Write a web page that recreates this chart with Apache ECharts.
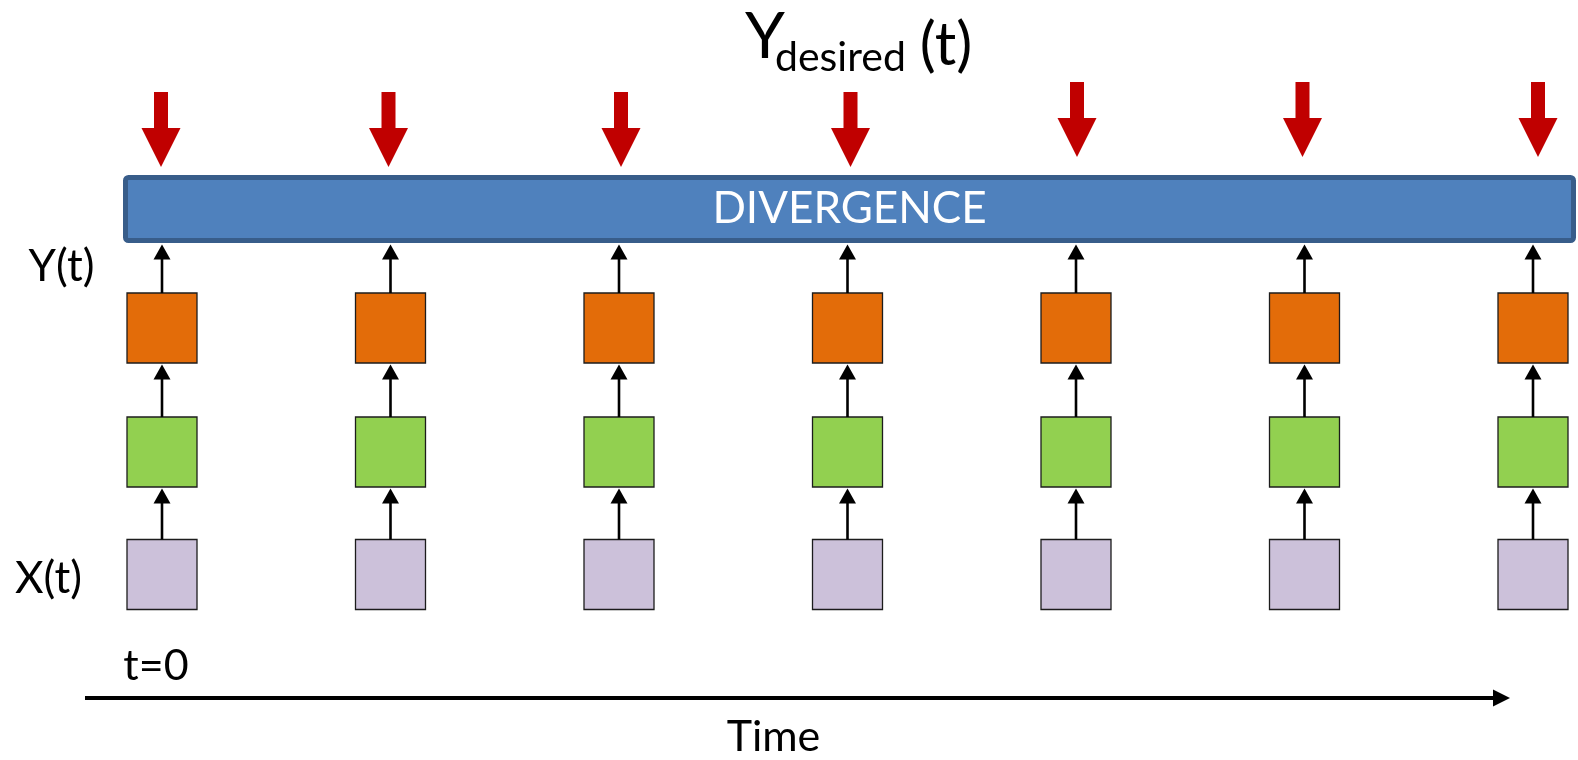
<!DOCTYPE html>
<html><head><meta charset="utf-8">
<script src="https://cdn.jsdelivr.net/npm/echarts@6/dist/echarts.min.js"></script>
<style>html,body{margin:0;padding:0;background:#fff}#c{width:1578px;height:760px}</style>
</head><body><div id="c"></div>
<script>
// ---- data ----
const timeSteps = [0, 1, 2, 3, 4, 5, 6];
const layerNames = ['X(t)', 'hidden', 'Y(t)'];
const lossLabel = 'DIVERGENCE';
const targetLabel = ['Y', 'desired', '(t)'];
const startLabel = 't=0';
const axisName = 'Time';

// ---- layout (pixels) ----
const W = 1578, H = 760;
const STEP0_PX = 162, STEP_PX = 228.5;
const XMIN = -STEP0_PX / STEP_PX, XMAX = (W - STEP0_PX) / STEP_PX;
const ROW_Y = [574.5, 452, 328];          // centre of X, hidden, Y boxes
const BOX = 70;
const BAR_TOP = 175, BAR_BOT = 243;
const redTop = [92, 92, 92, 92, 82, 82, 82];
const redDx = [-1, -2, 2, 3, 1, -2, 5];
const layerColors = ['#CCC1DA', '#92D050', '#E36C09'];
const FONT = 'Lato, "Open Sans", sans-serif';

function blackArrow(cx, y0, tip) {
  return [
    { type: 'line', shape: { x1: cx, y1: y0, x2: cx, y2: tip + 12 }, style: { stroke: '#000', lineWidth: 2.6 } },
    { type: 'polygon', shape: { points: [[cx, tip], [cx - 8.5, tip + 15], [cx + 8.5, tip + 15]] }, style: { fill: '#000' } }
  ];
}

function renderColumn(params, api) {
  const i = params.dataIndex;
  const s = api.value(0);
  const cx = api.coord([s, 0])[0];
  const children = [];
  ROW_Y.forEach((cyv, k) => {
    const cy = api.coord([s, cyv])[1];
    children.push({ type: 'rect', shape: { x: cx - BOX / 2, y: cy - BOX / 2, width: BOX, height: BOX },
      style: { fill: layerColors[k], stroke: '#1c1c1c', lineWidth: 1.3 } });
  });
  const targets = [ROW_Y[1] + BOX / 2, ROW_Y[2] + BOX / 2, BAR_BOT];
  for (let k = 0; k < 3; k++) {
    const y0 = api.coord([s, ROW_Y[k] - BOX / 2])[1];
    const tip = api.coord([s, targets[k]])[1] + 1.5;
    children.push(...blackArrow(cx, y0, tip));
  }
  const rx = cx + redDx[i], t = api.coord([s, redTop[i]])[1];
  children.push({ type: 'polygon', shape: { points: [
    [rx - 7, t], [rx + 7, t], [rx + 7, t + 36], [rx + 19.5, t + 36], [rx, t + 75], [rx - 19.5, t + 36], [rx - 7, t + 36]
  ] }, style: { fill: '#C00000' } });
  return { type: 'group', children };
}

function renderFrame(params, api) {
  const first = api.coord([timeSteps[0], 0])[0];
  const last = api.coord([timeSteps[timeSteps.length - 1], 0])[0];
  const bx0 = first - 39, bx1 = last + 43;
  const lw = 5;
  const ty = 698, tx0 = first - 77, tx1 = last - 23;
  return { type: 'group', children: [
    { type: 'rect', shape: { x: bx0 + lw / 2, y: BAR_TOP + lw / 2, width: bx1 - bx0 - lw, height: BAR_BOT - BAR_TOP - lw, r: 3 },
      style: { fill: '#4F81BD', stroke: '#385D8A', lineWidth: lw } },
    { type: 'text', x: (bx0 + bx1) / 2, y: (BAR_TOP + BAR_BOT) / 2,
      style: { text: lossLabel, fill: '#fff', font: '44px ' + FONT, textAlign: 'center', textVerticalAlign: 'middle' } },
    { type: 'line', shape: { x1: tx0, y1: ty, x2: tx1 - 14, y2: ty }, style: { stroke: '#000', lineWidth: 4 } },
    { type: 'polygon', shape: { points: [[tx1, ty], [tx1 - 17, ty - 8.5], [tx1 - 17, ty + 8.5]] }, style: { fill: '#000' } }
  ] };
}

function txt(x, y, text, size, align) {
  return { type: 'text', x, y, style: { text, font: size + 'px ' + FONT, fill: '#000', textAlign: align || 'center', textVerticalAlign: 'middle' } };
}

const chart = echarts.init(document.getElementById('c'));
chart.setOption({
  animation: false,
  backgroundColor: '#fff',
  grid: { left: 0, right: 0, top: 0, bottom: 0 },
  xAxis: { type: 'value', min: XMIN, max: XMAX, show: false },
  yAxis: { type: 'value', min: 0, max: H, inverse: true, show: false },
  graphic: [
    txt(745, 37.5, targetLabel[0], 64, 'left'),
    txt(775, 58, targetLabel[1], 41, 'left'),
    txt(946, 46, targetLabel[2], 60, 'center'),
    txt(61.5, 267, layerNames[2], 44),
    txt(48.5, 579, layerNames[0], 44),
    txt(156, 666, startLabel, 43),
    txt(773.5, 737.5, axisName, 43)
  ],
  series: [
    { type: 'custom', renderItem: renderFrame, data: [[0, 0]], silent: true, z: 1 },
    { type: 'custom', renderItem: renderColumn, data: timeSteps.map(s => [s, 0]), silent: true, z: 2 }
  ]
});
</script></body></html>
